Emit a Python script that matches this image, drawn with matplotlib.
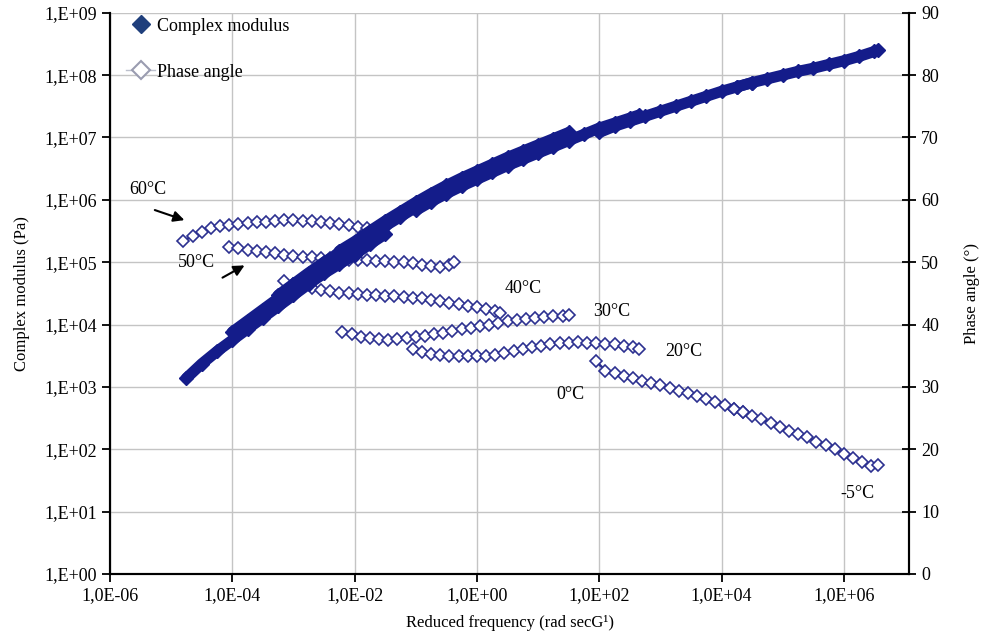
import numpy as np
import matplotlib.pyplot as plt
from matplotlib.lines import Line2D
from matplotlib.ticker import FuncFormatter, FixedLocator

plt.rcParams['font.family'] = ['Liberation Serif', 'DejaVu Serif']

# ---- complex modulus, log10(reduced frequency) -> log10(G*) per test temperature
mod_logf_60 = [-4.75, -4.5, -4.25, -4.0, -3.75, -3.5, -3.25, -3.0, -2.75, -2.5, -2.25, -2.0, -1.75, -1.5]
mod_logg_60 = [3.14, 3.37, 3.57, 3.75, 3.93, 4.11, 4.29, 4.47, 4.65, 4.82, 4.97, 5.12, 5.29, 5.45]
mod_logf_50 = [-4.0, -3.75, -3.5, -3.25, -3.0, -2.75, -2.5, -2.25, -2.0, -1.75, -1.5, -1.25, -1.0, -0.75, -0.5]
mod_logg_50 = [3.88, 4.06, 4.24, 4.42, 4.60, 4.78, 4.95, 5.10, 5.25, 5.42, 5.58, 5.73, 5.88, 6.02, 6.15]
mod_logf_40 = [-3.25, -3.0, -2.75, -2.5, -2.25, -2.0, -1.75, -1.5, -1.25, -1.0, -0.75, -0.5, -0.25, 0.0, 0.25]
mod_logg_40 = [4.47, 4.65, 4.83, 5.00, 5.15, 5.30, 5.47, 5.63, 5.78, 5.93, 6.07, 6.20, 6.32, 6.43, 6.54]
mod_logf_30 = [-2.25, -2.0, -1.75, -1.5, -1.25, -1.0, -0.75, -0.5, -0.25, 0.0, 0.25, 0.5, 0.75, 1.0, 1.25, 1.5]
mod_logg_30 = [5.18, 5.33, 5.50, 5.66, 5.81, 5.96, 6.10, 6.23, 6.35, 6.46, 6.57, 6.68, 6.78, 6.88, 6.98, 7.08]
mod_logf_20 = [-1.0, -0.75, -0.5, -0.25, 0.0, 0.25, 0.5, 0.75, 1.0, 1.25, 1.5, 1.75, 2.0, 2.25, 2.5, 2.65]
mod_logg_20 = [5.83, 5.97, 6.10, 6.22, 6.33, 6.44, 6.55, 6.65, 6.75, 6.85, 6.95, 7.05, 7.15, 7.23, 7.31, 7.36]
mod_logf_0 = [2.0, 2.25, 2.5, 2.75, 3.0, 3.25, 3.5, 3.75, 4.0, 4.25, 4.5]
mod_logg_0 = [7.08, 7.18, 7.26, 7.34, 7.42, 7.50, 7.58, 7.66, 7.74, 7.81, 7.88]
mod_logf_m5 = [4.25, 4.5, 4.75, 5.0, 5.25, 5.5, 5.75, 6.0, 6.25, 6.5, 6.55]
mod_logg_m5 = [7.81, 7.88, 7.94, 8.00, 8.06, 8.11, 8.17, 8.23, 8.30, 8.38, 8.40]

# ---- phase angle (degrees)
ph_logf_60 = [-4.80, -4.65, -4.50, -4.35, -4.20, -4.05, -3.90, -3.75, -3.60, -3.45, -3.30,
              -3.15, -3.00, -2.85, -2.70, -2.55, -2.40, -2.25, -2.10, -1.95, -1.80, -1.65]
ph_deg_60 = [53.4, 54.2, 54.9, 55.5, 55.8, 56.0, 56.2, 56.3, 56.5, 56.5, 56.6,
             56.7, 56.7, 56.6, 56.6, 56.4, 56.3, 56.1, 55.9, 55.7, 55.4, 55.1]
ph_logf_50 = [-4.05, -3.90, -3.75, -3.60, -3.45, -3.30, -3.15, -3.00, -2.85, -2.70, -2.55, -2.40, -2.25,
              -2.10, -1.95, -1.80, -1.65, -1.50, -1.35, -1.20, -1.05, -0.90, -0.75, -0.60, -0.45, -0.38]
ph_deg_50 = [52.4, 52.2, 52.0, 51.8, 51.6, 51.4, 51.2, 51.0, 50.9, 50.8, 50.7, 50.6, 50.5,
             50.4, 50.4, 50.3, 50.2, 50.2, 50.1, 50.0, 49.8, 49.6, 49.4, 49.3, 49.6, 50.1]
ph_logf_40 = [-3.15, -3.00, -2.85, -2.70, -2.55, -2.40, -2.25, -2.10, -1.95, -1.80, -1.65, -1.50, -1.35,
              -1.20, -1.05, -0.90, -0.75, -0.60, -0.45, -0.30, -0.15, 0.00, 0.15, 0.30, 0.38]
ph_deg_40 = [46.9, 46.5, 46.1, 45.8, 45.5, 45.3, 45.1, 45.0, 44.9, 44.8, 44.7, 44.6, 44.5,
             44.4, 44.3, 44.2, 44.0, 43.8, 43.5, 43.3, 43.0, 42.8, 42.5, 42.1, 41.8]
ph_logf_30 = [-2.20, -2.05, -1.90, -1.75, -1.60, -1.45, -1.30, -1.15, -1.00, -0.85, -0.70, -0.55, -0.40,
              -0.25, -0.10, 0.05, 0.20, 0.35, 0.50, 0.65, 0.80, 0.95, 1.10, 1.25, 1.40, 1.50]
ph_deg_30 = [38.8, 38.4, 38.0, 37.8, 37.6, 37.5, 37.6, 37.8, 38.0, 38.2, 38.4, 38.7, 39.0,
             39.3, 39.5, 39.8, 40.0, 40.3, 40.5, 40.7, 40.9, 41.1, 41.2, 41.3, 41.4, 41.5]
ph_logf_20 = [-1.05, -0.90, -0.75, -0.60, -0.45, -0.30, -0.15, 0.00, 0.15, 0.30, 0.45, 0.60, 0.75,
              0.90, 1.05, 1.20, 1.35, 1.50, 1.65, 1.80, 1.95, 2.10, 2.25, 2.40, 2.55, 2.65]
ph_deg_20 = [36.1, 35.6, 35.3, 35.1, 35.0, 34.9, 34.9, 34.9, 35.0, 35.1, 35.4, 35.8, 36.1,
             36.4, 36.6, 36.8, 37.0, 37.1, 37.2, 37.1, 37.0, 36.9, 36.8, 36.6, 36.4, 36.1]
ph_logf_0 = [1.95, 2.10, 2.25, 2.40, 2.55, 2.70, 2.85, 3.00, 3.15, 3.30, 3.45, 3.60, 3.75, 3.90, 4.05, 4.20, 4.35]
ph_deg_0 = [34.1, 32.6, 32.2, 31.8, 31.4, 31.0, 30.6, 30.3, 29.8, 29.4, 29.0, 28.6, 28.1, 27.6, 27.1, 26.5, 26.0]
ph_logf_m5 = [4.20, 4.35, 4.50, 4.65, 4.80, 4.95, 5.10, 5.25, 5.40, 5.55, 5.70, 5.85, 6.00, 6.15, 6.30, 6.45, 6.55]
ph_deg_m5 = [26.5, 26.0, 25.4, 24.8, 24.2, 23.6, 23.0, 22.5, 21.9, 21.2, 20.6, 20.0, 19.3, 18.6, 18.0, 17.3, 17.4]

mod_series = [(mod_logf_60, mod_logg_60), (mod_logf_50, mod_logg_50), (mod_logf_40, mod_logg_40),
              (mod_logf_30, mod_logg_30), (mod_logf_20, mod_logg_20), (mod_logf_0, mod_logg_0),
              (mod_logf_m5, mod_logg_m5)]
ph_series = [(ph_logf_60, ph_deg_60), (ph_logf_50, ph_deg_50), (ph_logf_40, ph_deg_40),
             (ph_logf_30, ph_deg_30), (ph_logf_20, ph_deg_20), (ph_logf_0, ph_deg_0),
             (ph_logf_m5, ph_deg_m5)]

NAVY = '#141c8a'
PH_EDGE = '#2c3090'

fig = plt.figure(figsize=(9.82, 6.37), dpi=100)
ax = fig.add_axes([0.112, 0.099, 0.814, 0.881])
ax2 = ax.twinx()
# modulus drawn above the phase angle markers and the grid
ax.set_zorder(2)
ax2.set_zorder(1)
ax.patch.set_visible(False)
ax2.patch.set_visible(True)
ax2.patch.set_facecolor('white')

for lf, lg in mod_series:
    ax.plot(10.0 ** np.array(lf), 10.0 ** np.array(lg), color=NAVY, lw=8,
            marker='D', ms=7, mfc=NAVY, mec=NAVY, solid_capstyle='round')

for lf, deg in ph_series:
    ax2.plot(10.0 ** np.array(lf), deg, color=PH_EDGE, lw=1.8, marker='D', ms=6,
             mfc='white', mec=PH_EDGE, mew=1.2)

ax.set_xscale('log')
ax.set_yscale('log')
ax.set_xlim(1e-6, 10 ** 7.07)
ax.set_ylim(1, 1e9)
ax2.set_ylim(0, 90)

xt = [10.0 ** e for e in range(-6, 7, 2)]
yt = [10.0 ** e for e in range(0, 10)]
ax.xaxis.set_major_locator(FixedLocator(xt))
ax.yaxis.set_major_locator(FixedLocator(yt))
ax.xaxis.set_minor_locator(FixedLocator([]))
ax.yaxis.set_minor_locator(FixedLocator([]))
ax.xaxis.set_major_formatter(FuncFormatter(lambda v, p: f"1,0E{int(round(np.log10(v))):+03d}"))
ax.yaxis.set_major_formatter(FuncFormatter(lambda v, p: f"1,E{int(round(np.log10(v))):+03d}"))
ax2.set_yticks(range(0, 91, 10))

# grid lives on the lower axes so markers sit on top of it
ax2.xaxis.set_visible(True)
ax2.tick_params(axis='x', which='both', bottom=False, top=False, labelbottom=False, labeltop=False)
ax2.grid(True, axis='both', color='#c4c4c4', lw=1.0)

ax.tick_params(axis='both', labelsize=13, direction='out', length=6, width=1.3, color='black')
ax2.tick_params(axis='y', labelsize=13, direction='inout', length=10, width=1.3)
for a in (ax, ax2):
    a.spines['top'].set_visible(False)
    for s in ('left', 'right', 'bottom'):
        a.spines[s].set_linewidth(1.5)

ax.set_xlabel('Reduced frequency (rad secG\u00b9)', fontsize=12, labelpad=8)
ax.set_ylabel('Complex modulus (Pa)', fontsize=12, labelpad=10)
ax2.set_ylabel('Phase angle (\u00b0)', fontsize=12, labelpad=18)

handles = [Line2D([], [], color='#1f3f7c', marker='D', ms=9, ls='none'),
           Line2D([], [], color='#bcc0cc', lw=1.0, marker='D', ms=9, mfc='white', mec='#9a9cb0', mew=1.5)]
ax.legend(handles, ['Complex modulus', 'Phase angle'], loc='upper left', bbox_to_anchor=(0.0, 1.02),
          frameon=False, fontsize=13, handlelength=1.6, handletextpad=0.1, labelspacing=1.6)

# temperature labels
ax.text(10 ** -5.38, 10 ** 6.17, '60\u00b0C', fontsize=13, ha='center', va='center')
ax.annotate('', xy=(10 ** -4.74, 10 ** 5.66), xytext=(10 ** -5.31, 10 ** 5.85),
            arrowprops=dict(arrowstyle='-|>', color='black', lw=1.5, mutation_scale=16))
ax.text(10 ** -4.58, 10 ** 5.0, '50\u00b0C', fontsize=13, ha='center', va='center')
ax.annotate('', xy=(10 ** -3.76, 10 ** 4.97), xytext=(10 ** -4.20, 10 ** 4.73),
            arrowprops=dict(arrowstyle='-|>', color='black', lw=1.5, mutation_scale=16))
temp_labels = ['40\u00b0C', '30\u00b0C', '20\u00b0C', '0\u00b0C', '-5\u00b0C']
label_logf = [0.76, 2.20, 3.38, 1.53, 6.22]
label_deg = [45.7, 42.1, 35.7, 28.8, 12.9]
for t, lf, d in zip(temp_labels, label_logf, label_deg):
    ax2.text(10 ** lf, d, t, fontsize=13, ha='center', va='center')

fig.savefig('out.png', dpi=100)
